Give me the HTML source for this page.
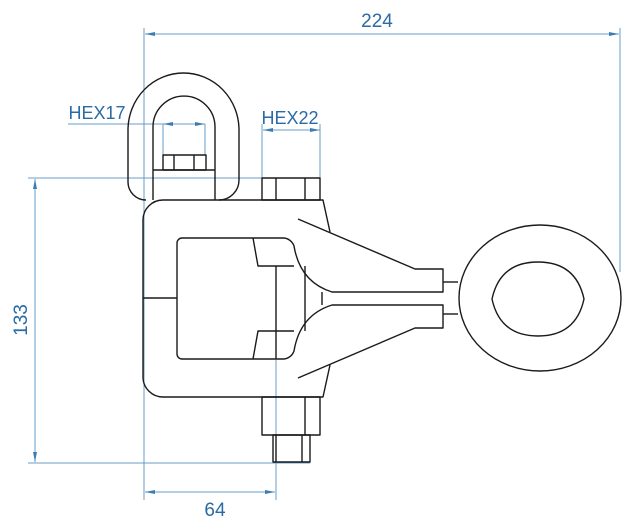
<!DOCTYPE html>
<html><head><style>html,body{margin:0;padding:0;background:#fff;}svg{display:block}</style></head>
<body>
<svg width="640" height="524" viewBox="0 0 640 524" xmlns="http://www.w3.org/2000/svg">
<defs>
<marker id="a" markerWidth="10" markerHeight="6" refX="10" refY="3" orient="auto-start-reverse" markerUnits="userSpaceOnUse"><path d="M0,1 L10,3 L0,5 Z" fill="#3d7db5"/></marker>
</defs>
<g stroke="#6a9cc8" stroke-width="1" fill="none">
<line x1="144" y1="28" x2="144" y2="500"/>
<line x1="620" y1="28" x2="620" y2="272"/>
<line x1="145" y1="34" x2="619" y2="34" marker-start="url(#a)" marker-end="url(#a)"/>
<line x1="28" y1="178" x2="262" y2="178"/>
<line x1="28" y1="463" x2="310" y2="463"/>
<line x1="35" y1="179" x2="35" y2="462" marker-start="url(#a)" marker-end="url(#a)"/>
<line x1="276" y1="360" x2="276" y2="500"/>
<line x1="145" y1="492" x2="275" y2="492" marker-start="url(#a)" marker-end="url(#a)"/>
<line x1="68" y1="124" x2="163" y2="124"/>
<line x1="163" y1="124" x2="205" y2="124" marker-start="url(#a)" marker-end="url(#a)"/>
<line x1="163" y1="124" x2="163" y2="155"/>
<line x1="205" y1="124" x2="205" y2="155"/>
<line x1="263" y1="130" x2="320" y2="130" marker-start="url(#a)" marker-end="url(#a)"/>
<line x1="262" y1="124" x2="262" y2="178"/>
<line x1="320" y1="124" x2="320" y2="178"/>
</g>
<g fill="#2a6aa5" font-family="Liberation Sans, sans-serif" font-size="19">
<text x="377" y="27" text-anchor="middle">224</text>
<text x="97" y="119" text-anchor="middle" font-size="18">HEX17</text>
<text x="290" y="124" text-anchor="middle" font-size="18">HEX22</text>
<text x="215" y="516" text-anchor="middle">64</text>
<text transform="translate(27,320) rotate(-90)" text-anchor="middle">133</text>
</g>
<g stroke="#1a1a1a" stroke-width="1.4" fill="none" stroke-linejoin="round">
<path d="M146,200 A18,18 0 0 1 128,182 L128,130 A55.5,57 0 0 1 239,130 L239,180 A20,20 0 0 1 219,200"/>
<path d="M153,200 L153,127 A31,31 0 0 1 215,127 L215,200"/>
<line x1="153" y1="170" x2="215" y2="170"/>
<rect x="163" y="155" width="43" height="15"/>
<line x1="174" y1="155" x2="174" y2="170"/>
<line x1="194" y1="155" x2="194" y2="170"/>
<rect x="262" y="178" width="58" height="22"/>
<line x1="276" y1="178" x2="276" y2="200"/>
<line x1="305" y1="178" x2="305" y2="200"/>
<path d="M163,200 L323,200 L330,232 M330,365 L323,397 L163,397 A20,20 0 0 1 143,377 L143,220 A20,20 0 0 1 163,200"/>
<line x1="143" y1="298" x2="177" y2="298"/>
<path d="M182,238 L284,238 A12,12 0 0 1 294,246 Q300,282 332,292 L443,292 L443,269 L415,269 L298,219"/>
<path d="M182,359 L284,359 A12,12 0 0 0 294,351 Q300,315 332,305 L443,305 L443,328 L415,328 L298,378"/>
<path d="M182,238 A5,5 0 0 0 177,243 L177,354 A5,5 0 0 0 182,359"/>
<path d="M253,238 L258,266 L294,266"/>
<path d="M253,359 L258,331 L294,331"/>
<line x1="276" y1="266" x2="276" y2="359"/>
<line x1="305" y1="266" x2="305" y2="331"/>
<line x1="322" y1="292" x2="322" y2="305"/>
<rect x="262" y="397" width="58" height="38"/>
<line x1="305" y1="397" x2="305" y2="435"/>
<rect x="273" y="435" width="37" height="27"/>
<line x1="276" y1="435" x2="276" y2="462"/>
<line x1="302" y1="435" x2="302" y2="462"/>
<line x1="443" y1="282" x2="458" y2="282"/>
<line x1="443" y1="314" x2="458" y2="314"/>
<ellipse cx="540" cy="298" rx="81" ry="73"/>
<path d="M492,299 Q500,262 538,262 Q576,262 584,299 Q576,336 538,336 Q500,336 492,299 Z"/>
</g>
</svg>
</body></html>
